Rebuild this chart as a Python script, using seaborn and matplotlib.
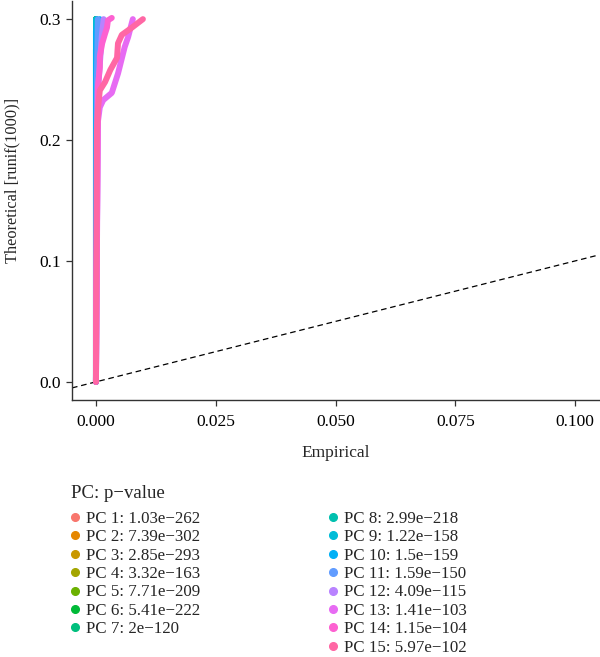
#!/usr/bin/env python3
"""
JackStraw-style QQ plot: empirical vs theoretical p-values per PC
"""

import pandas as pd
import numpy as np
import seaborn as sns
import matplotlib.pyplot as plt
from matplotlib.lines import Line2D
from matplotlib.ticker import FormatStrFormatter

# Legend labels (PC: p-value)
pc_names = [f"PC {i}" for i in range(1, 16)]
pc_pvalues = ["1.03e\u2212262", "7.39e\u2212302", "2.85e\u2212293", "3.32e\u2212163",
              "7.71e\u2212209", "5.41e\u2212222", "2e\u2212120", "2.99e\u2212218",
              "1.22e\u2212158", "1.5e\u2212159", "1.59e\u2212150", "4.09e\u2212115",
              "1.41e\u2212103", "1.15e\u2212104", "5.97e\u2212102"]

# ggplot default hue palette, 15 levels
pc_colors = ["#F8766D", "#E58700", "#C99800", "#A3A500", "#6BB100", "#00BA38",
             "#00BF7D", "#00C0AF", "#00BCD8", "#00B0F6", "#619CFF", "#B983FF",
             "#E76BF3", "#FD61D1", "#FF67A4"]

# QQ curves (empirical p-value, theoretical quantile)
emp_pc1 = [0.0, 0.0];  theo_pc1 = [0.0, 0.30]
emp_pc2 = [0.0, 0.0];  theo_pc2 = [0.0, 0.30]
emp_pc3 = [0.0, 0.0];  theo_pc3 = [0.0, 0.30]
emp_pc4 = [0.0, 0.0];  theo_pc4 = [0.0, 0.30]
emp_pc5 = [0.0, 0.0];  theo_pc5 = [0.0, 0.30]
emp_pc6 = [0.0, 0.0];  theo_pc6 = [0.0, 0.30]
emp_pc7 = [0.0, 0.0, 0.0008, 0.0008];  theo_pc7 = [0.0, 0.275, 0.283, 0.295]
emp_pc8 = [0.0, 0.0];  theo_pc8 = [0.0, 0.30]
emp_pc9 = [0.0, 0.0];  theo_pc9 = [0.0, 0.30]
emp_pc10 = [0.0, 0.0, 0.0008];  theo_pc10 = [0.0, 0.29, 0.30]
emp_pc11 = [0.0, 0.0002, 0.0004];  theo_pc11 = [0.0, 0.25, 0.30]
emp_pc12 = [0.0, 0.0004, 0.0012, 0.0016];  theo_pc12 = [0.0, 0.24, 0.285, 0.30]
emp_pc13 = [0.0, 0.0004, 0.0008, 0.0015, 0.0033, 0.0046, 0.006, 0.0067, 0.0077]
theo_pc13 = [0.0, 0.215, 0.227, 0.233, 0.239, 0.255, 0.277, 0.285, 0.30]
emp_pc14 = [0.0, 0.0004, 0.0008, 0.0008, 0.0013, 0.0019, 0.0023, 0.0025, 0.0033]
theo_pc14 = [0.0, 0.244, 0.260, 0.269, 0.280, 0.288, 0.293, 0.299, 0.301]
emp_pc15 = [0.0, 0.0002, 0.0004, 0.0008, 0.0019, 0.003, 0.0044, 0.0046, 0.0054, 0.0075, 0.0098]
theo_pc15 = [0.0, 0.208, 0.225, 0.241, 0.248, 0.258, 0.268, 0.280, 0.287, 0.293, 0.300]

emp_all = [emp_pc1, emp_pc2, emp_pc3, emp_pc4, emp_pc5, emp_pc6, emp_pc7, emp_pc8,
           emp_pc9, emp_pc10, emp_pc11, emp_pc12, emp_pc13, emp_pc14, emp_pc15]
theo_all = [theo_pc1, theo_pc2, theo_pc3, theo_pc4, theo_pc5, theo_pc6, theo_pc7, theo_pc8,
            theo_pc9, theo_pc10, theo_pc11, theo_pc12, theo_pc13, theo_pc14, theo_pc15]

rows = []
for name, ex, th in zip(pc_names, emp_all, theo_all):
    for order, (e, t) in enumerate(zip(ex, th)):
        rows.append({"PC": name, "Empirical": e, "Theoretical": t, "order": order})
df = pd.DataFrame(rows)

sns.set_style("white")
plt.rcParams['font.family'] = ['Liberation Serif', 'DejaVu Serif']

fig = plt.figure(figsize=(6.0, 6.57), dpi=100)
ax = fig.add_axes([72 / 600, 257 / 657, 527 / 600, 399 / 657])

# dashed identity line
ax.axline((0, 0), slope=1, color="black", lw=0.9, ls=(0, (4.5, 3)), zorder=1)

sns.lineplot(data=df, x="Empirical", y="Theoretical", hue="PC", hue_order=pc_names,
             palette=pc_colors, sort=False, estimator=None, units="PC",
             lw=4.3, legend=False, ax=ax, zorder=3,
             solid_capstyle="round", solid_joinstyle="round")

ax.set_xlim(-0.005, 0.105)
ax.set_ylim(-0.015, 0.315)
ax.set_xticks([0.0, 0.025, 0.05, 0.075, 0.1])
ax.set_yticks([0.0, 0.1, 0.2, 0.3])
ax.xaxis.set_major_formatter(FormatStrFormatter("%.3f"))
ax.yaxis.set_major_formatter(FormatStrFormatter("%.1f"))
ax.tick_params(axis="both", labelsize=12.5, length=4, width=0.9, color="#333333",
               direction="out", bottom=True, left=True, labelcolor="black")
ax.tick_params(axis="x", pad=6)
ax.tick_params(axis="y", pad=4)
for side in ["top", "right"]:
    ax.spines[side].set_visible(False)
for side in ["left", "bottom"]:
    ax.spines[side].set_color("#333333")
    ax.spines[side].set_linewidth(1.0)

ax.set_xlabel("Empirical", fontsize=12.5, labelpad=11)
ax.set_ylabel("Theoretical [runif(1000)]", fontsize=11.8, labelpad=10)
ax.yaxis.set_label_coords(-52 / 527, (400 - 180) / 399)

# legend: title as text, then two columns of 7 and 8 entries
fig.text(71 / 600, 1 - 493 / 657, "PC: p\u2212value", fontsize=13.5, va="center", ha="left")

labels = [f"{n}: {p}" for n, p in zip(pc_names, pc_pvalues)]
handles = [Line2D([0], [0], marker="o", ls="none", markersize=5.5,
                  markerfacecolor=c, markeredgecolor=c) for c in pc_colors]

legend_kw = dict(loc="upper left", frameon=False, fontsize=12.2,
                 handlelength=0.6, handletextpad=0.35, labelspacing=0.14,
                 borderpad=0, borderaxespad=0)
leg1 = fig.legend(handles[:7], labels[:7],
                  bbox_to_anchor=(70 / 600, 1 - 511 / 657), **legend_kw)
leg2 = fig.legend(handles[7:], labels[7:],
                  bbox_to_anchor=(328 / 600, 1 - 511 / 657), **legend_kw)

plt.savefig("out.png", dpi=100, facecolor="white")
